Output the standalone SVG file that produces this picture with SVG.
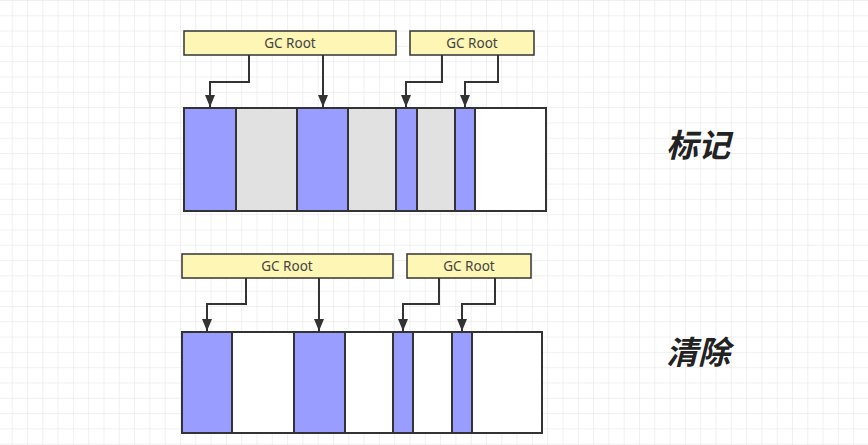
<svg xmlns="http://www.w3.org/2000/svg" width="868" height="445" viewBox="0 0 868 445">
<defs>
<pattern id="grid" x="11.7" y="0" width="15.3" height="15.3" patternUnits="userSpaceOnUse">
<path d="M0 0V15.3M0 0H15.3" fill="none" stroke="#e2e2e2" stroke-width="1"/>
</pattern>
<marker id="arr" viewBox="0 0 12 10" refX="12" refY="5" markerWidth="12" markerHeight="10" markerUnits="userSpaceOnUse" orient="auto">
<path d="M0 0L12 5L0 10Z" fill="#333"/>
</marker>
<style>
.root{fill:#fdf6b4;stroke:#333;stroke-width:1.5}
.rt{font-family:"Noto Sans","Liberation Sans",sans-serif;font-size:13.5px;fill:#444;text-anchor:middle}
.cell{stroke:#333;stroke-width:2}
.live{fill:#999dff}
.dead{fill:#e1e1e1}
.free{fill:#ffffff}
.con{fill:none;stroke:#333;stroke-width:2;marker-end:url(#arr)}
.lbl{font-family:"Noto Sans CJK SC",sans-serif;font-weight:bold;font-style:italic;font-size:32px;fill:#222;text-anchor:middle}
</style>
</defs>
<rect width="868" height="445" fill="#ffffff"/>
<rect width="868" height="445" fill="url(#grid)"/>

<g id="mark-root-1"><rect class="root" x="184" y="31" width="212" height="24"/><text class="rt" x="290" y="48">GC Root</text></g>
<g id="mark-root-2"><rect class="root" x="410" y="31" width="124" height="24"/><text class="rt" x="472" y="48">GC Root</text></g>
<g id="mark-memory">
<rect class="cell live" x="184" y="108" width="52" height="103"/>
<rect class="cell dead" x="236" y="108" width="61" height="103"/>
<rect class="cell live" x="297" y="108" width="51" height="103"/>
<rect class="cell dead" x="348" y="108" width="48" height="103"/>
<rect class="cell live" x="396" y="108" width="21" height="103"/>
<rect class="cell dead" x="417" y="108" width="38" height="103"/>
<rect class="cell live" x="455" y="108" width="20" height="103"/>
<rect class="cell free" x="475" y="108" width="71" height="103"/>
</g>
<g id="mark-label"><text class="lbl" x="698" y="157">标记</text></g>

<g id="sweep-root-1"><rect class="root" x="182" y="254" width="211" height="24"/><text class="rt" x="287" y="271">GC Root</text></g>
<g id="sweep-root-2"><rect class="root" x="407" y="254" width="124" height="24"/><text class="rt" x="469" y="271">GC Root</text></g>
<g id="sweep-memory">
<rect class="cell live" x="182" y="332" width="50" height="101"/>
<rect class="cell free" x="232" y="332" width="62" height="101"/>
<rect class="cell live" x="294" y="332" width="51" height="101"/>
<rect class="cell free" x="345" y="332" width="48" height="101"/>
<rect class="cell live" x="393" y="332" width="20" height="101"/>
<rect class="cell free" x="413" y="332" width="39" height="101"/>
<rect class="cell live" x="452" y="332" width="20" height="101"/>
<rect class="cell free" x="472" y="332" width="70" height="101"/>
</g>
<g id="sweep-label"><text class="lbl" x="698" y="364">清除</text></g>

<g id="connectors">
<path class="con" d="M249 55V82H210V107"/>
<path class="con" d="M323 55V107"/>
<path class="con" d="M442 55V82H406V107"/>
<path class="con" d="M498 55V82H465V107"/>
<path class="con" d="M246 278V304H207V331"/>
<path class="con" d="M319 278V331"/>
<path class="con" d="M439 278V304H403V331"/>
<path class="con" d="M495 278V304H462V331"/>
</g>
</svg>
